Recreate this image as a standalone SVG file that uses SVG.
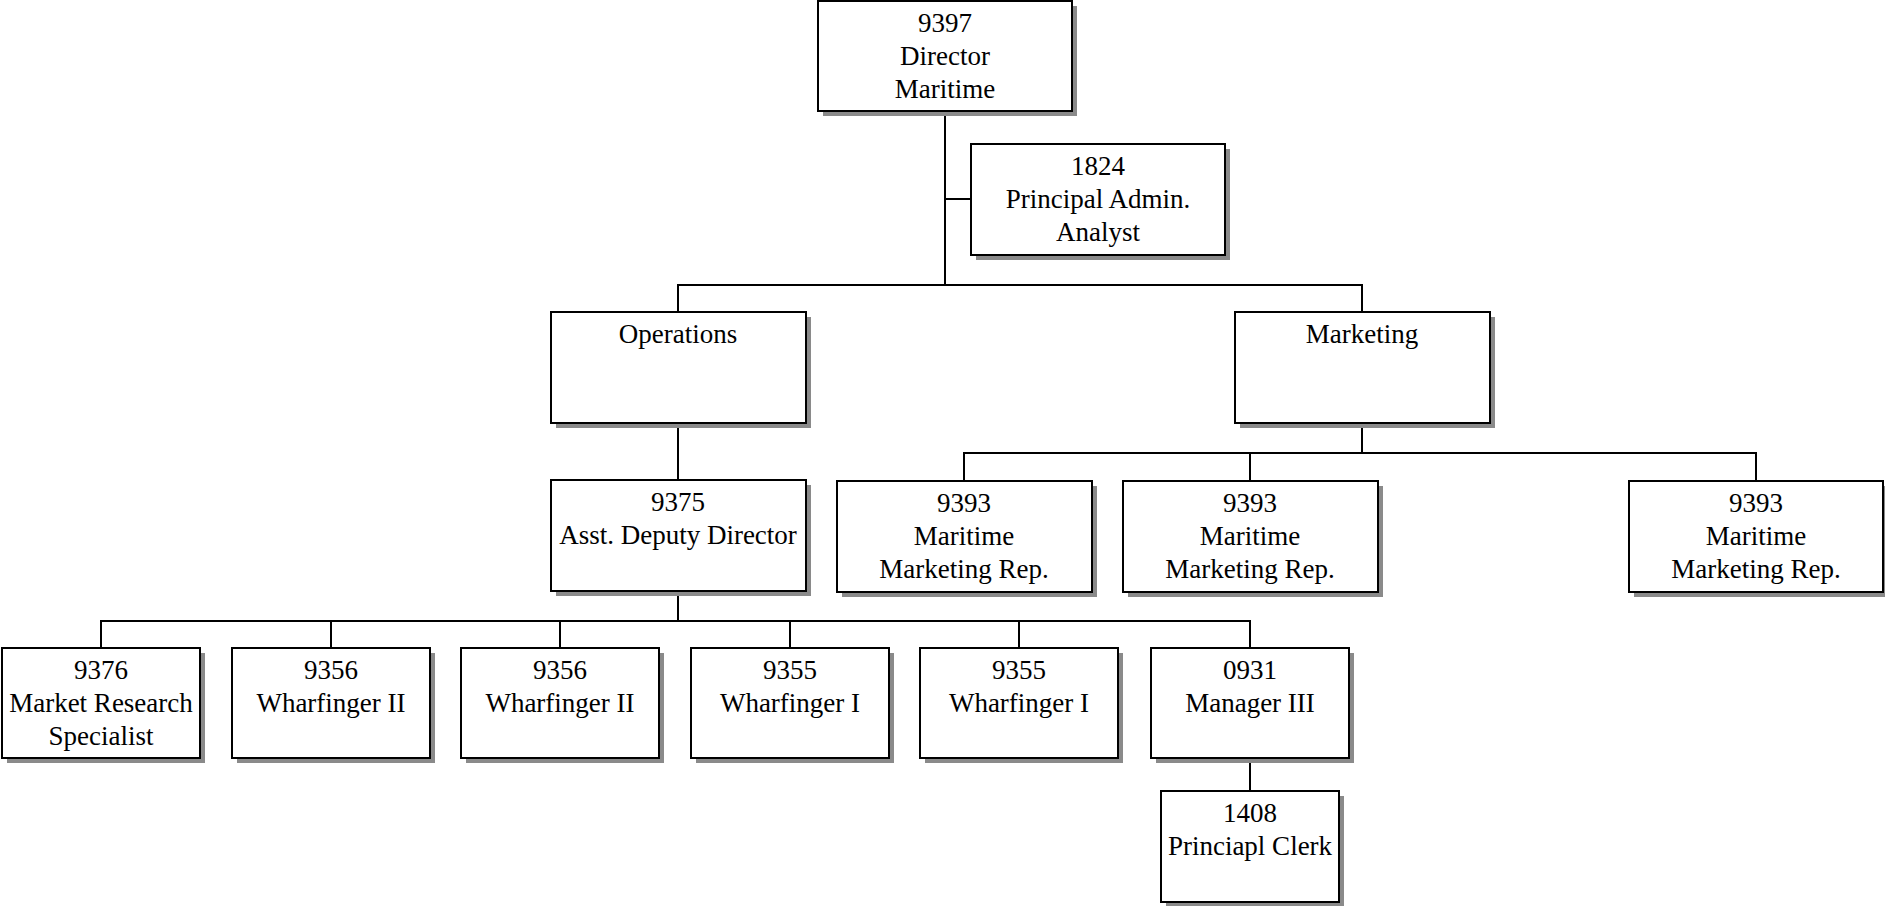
<svg xmlns="http://www.w3.org/2000/svg" width="1885" height="906" viewBox="0 0 1885 906">
  <style>
    .shadow { fill: #8a8a8a; }
    .box { fill: #ffffff; stroke: #000000; stroke-width: 2; }
    .wire { fill: none; stroke: #000000; stroke-width: 2; }
    text { font-family: "Liberation Serif", "Times New Roman", serif; font-size: 27px; fill: #000000; text-anchor: middle; }
  </style>
  <rect width="1885" height="906" fill="#ffffff"/>

  <!-- reporting lines -->
  <g id="connectors">
    <path class="wire" d="M945 111 V285 M945 199 H971"/>
    <path class="wire" d="M678 312 V285 H1362 V312"/>
    <path class="wire" d="M678 423 V480"/>
    <path class="wire" d="M1362 423 V453 M964 481 V453 H1756 V481 M1250 453 V481"/>
    <path class="wire" d="M678 591 V621 M101 648 V621 H1250 V648 M331 621 V648 M560 621 V648 M790 621 V648 M1019 621 V648"/>
    <path class="wire" d="M1250 758 V791"/>
  </g>

  <g id="director">
    <rect class="shadow" x="823" y="6" width="254" height="110"/>
    <rect class="box" x="818" y="1" width="254" height="110"/>
    <text x="945" y="32">9397</text>
    <text x="945" y="65">Director</text>
    <text x="945" y="98">Maritime</text>
  </g>

  <g id="admin-analyst">
    <rect class="shadow" x="976" y="149" width="254" height="111"/>
    <rect class="box" x="971" y="144" width="254" height="111"/>
    <text x="1098" y="175">1824</text>
    <text x="1098" y="208">Principal Admin.</text>
    <text x="1098" y="241">Analyst</text>
  </g>

  <g id="operations">
    <rect class="shadow" x="556" y="317" width="255" height="111"/>
    <rect class="box" x="551" y="312" width="255" height="111"/>
    <text x="678" y="343">Operations</text>
  </g>

  <g id="marketing">
    <rect class="shadow" x="1240" y="317" width="255" height="111"/>
    <rect class="box" x="1235" y="312" width="255" height="111"/>
    <text x="1362" y="343">Marketing</text>
  </g>

  <g id="asst-deputy-director">
    <rect class="shadow" x="556" y="485" width="255" height="111"/>
    <rect class="box" x="551" y="480" width="255" height="111"/>
    <text x="678" y="511">9375</text>
    <text x="678" y="544">Asst. Deputy Director</text>
  </g>

  <g id="marketing-rep-1">
    <rect class="shadow" x="842" y="486" width="255" height="111"/>
    <rect class="box" x="837" y="481" width="255" height="111"/>
    <text x="964" y="512">9393</text>
    <text x="964" y="545">Maritime</text>
    <text x="964" y="578">Marketing Rep.</text>
  </g>

  <g id="marketing-rep-2">
    <rect class="shadow" x="1128" y="486" width="255" height="111"/>
    <rect class="box" x="1123" y="481" width="255" height="111"/>
    <text x="1250" y="512">9393</text>
    <text x="1250" y="545">Maritime</text>
    <text x="1250" y="578">Marketing Rep.</text>
  </g>

  <g id="marketing-rep-3">
    <rect class="shadow" x="1634" y="486" width="254" height="111"/>
    <rect class="box" x="1629" y="481" width="254" height="111"/>
    <text x="1756" y="512">9393</text>
    <text x="1756" y="545">Maritime</text>
    <text x="1756" y="578">Marketing Rep.</text>
  </g>

  <g id="market-research">
    <rect class="shadow" x="7" y="653" width="198" height="110"/>
    <rect class="box" x="2" y="648" width="198" height="110"/>
    <text x="101" y="679">9376</text>
    <text x="101" y="712">Market Research</text>
    <text x="101" y="745">Specialist</text>
  </g>

  <g id="wharfinger-2a">
    <rect class="shadow" x="237" y="653" width="198" height="110"/>
    <rect class="box" x="232" y="648" width="198" height="110"/>
    <text x="331" y="679">9356</text>
    <text x="331" y="712">Wharfinger II</text>
  </g>

  <g id="wharfinger-2b">
    <rect class="shadow" x="466" y="653" width="198" height="110"/>
    <rect class="box" x="461" y="648" width="198" height="110"/>
    <text x="560" y="679">9356</text>
    <text x="560" y="712">Wharfinger II</text>
  </g>

  <g id="wharfinger-1a">
    <rect class="shadow" x="696" y="653" width="198" height="110"/>
    <rect class="box" x="691" y="648" width="198" height="110"/>
    <text x="790" y="679">9355</text>
    <text x="790" y="712">Wharfinger I</text>
  </g>

  <g id="wharfinger-1b">
    <rect class="shadow" x="925" y="653" width="198" height="110"/>
    <rect class="box" x="920" y="648" width="198" height="110"/>
    <text x="1019" y="679">9355</text>
    <text x="1019" y="712">Wharfinger I</text>
  </g>

  <g id="manager-3">
    <rect class="shadow" x="1156" y="653" width="198" height="110"/>
    <rect class="box" x="1151" y="648" width="198" height="110"/>
    <text x="1250" y="679">0931</text>
    <text x="1250" y="712">Manager III</text>
  </g>

  <g id="principal-clerk">
    <rect class="shadow" x="1166" y="796" width="178" height="111"/>
    <rect class="box" x="1161" y="791" width="178" height="111"/>
    <text x="1250" y="822">1408</text>
    <text x="1250" y="855">Princiapl Clerk</text>
  </g>
</svg>
